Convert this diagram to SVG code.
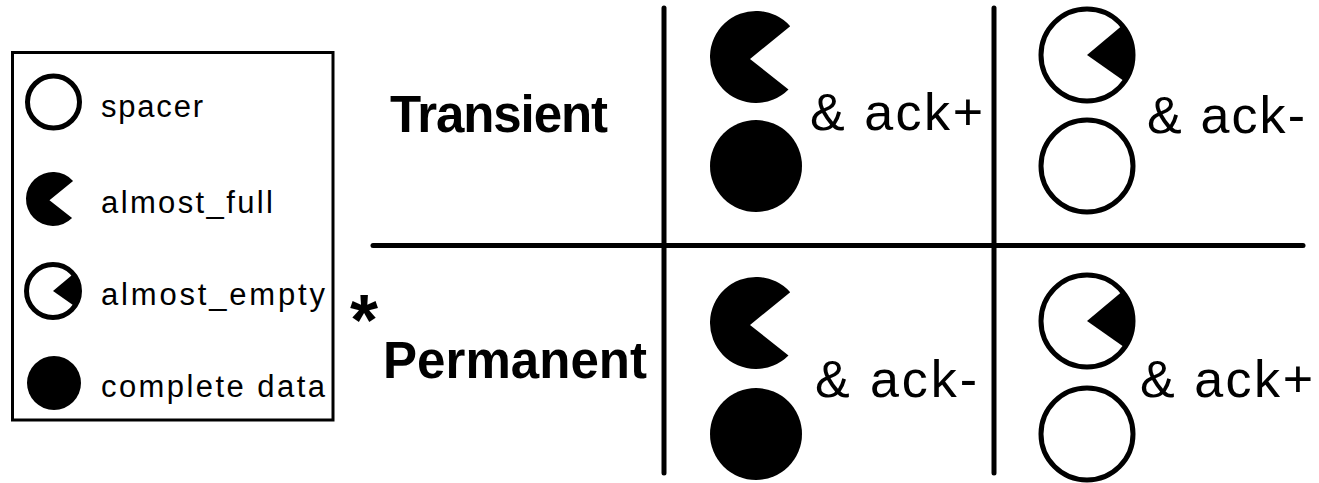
<svg xmlns="http://www.w3.org/2000/svg" xmlns:xlink="http://www.w3.org/1999/xlink" width="1319" height="483" viewBox="0 0 1319 483">
<style>
.t{font-family:"Liberation Sans",Arial,sans-serif;fill:#000}
.lg{font-size:31px}
.big{font-size:52px}
.hd{font-size:51px;font-weight:bold}
.star{font-size:72px;font-weight:bold}
.ln{stroke:#000;stroke-width:5;stroke-linecap:round;fill:none}
.ring{fill:#fff;stroke:#000;stroke-width:5}
.solid{fill:#000}
</style>
<defs>
<path id="full" d="M -6 2 L 34.2 -30.8 A 46 46 0 1 0 32.5 32.5 Z" fill="#000"/>
<g id="empty">
<circle r="46" fill="#fff"/>
<path d="M 0 0 L 35.2 -29.6 A 46 46 0 0 1 37.7 26.4 Z" fill="#000"/>
<circle r="46" fill="none" stroke="#000" stroke-width="5" vector-effect="non-scaling-stroke"/>
</g>
</defs>
<rect width="1319" height="483" fill="#fff"/>
<g id="connectors">
<line class="ln" x1="664" y1="8" x2="664" y2="473"/>
<line class="ln" x1="994" y1="8" x2="994" y2="473"/>
<line class="ln" x1="373" y1="245.5" x2="1303" y2="245.5"/>
</g>
<g id="legend">
<rect x="12.5" y="52.5" width="320.5" height="367.5" fill="none" stroke="#000" stroke-width="3"/>
<circle class="ring" cx="53.5" cy="102" r="26"/>
<text class="t lg" x="101" y="117" textLength="102" lengthAdjust="spacing">spacer</text>
<use xlink:href="#full" transform="translate(53 199) scale(0.587)"/>
<text class="t lg" x="101" y="213" textLength="172" lengthAdjust="spacing">almost_full</text>
<use xlink:href="#empty" transform="translate(53 291) scale(0.576)"/>
<text class="t lg" x="101" y="305" textLength="224" lengthAdjust="spacing">almost_empty</text>
<circle class="solid" cx="54" cy="383" r="27"/>
<text class="t lg" x="101" y="397" textLength="224" lengthAdjust="spacing">complete data</text>
</g>
<g id="row-transient">
<text class="t hd" x="390" y="132" textLength="218" lengthAdjust="spacing">Transient</text>
</g>
<g id="row-permanent">
<text class="t star" x="350" y="345">*</text>
<text class="t hd" x="383" y="378" textLength="264" lengthAdjust="spacing">Permanent</text>
</g>
<g id="cell-transient-full">
<use xlink:href="#full" transform="translate(756 57)"/>
<circle class="solid" cx="756" cy="166" r="46"/>
<text class="t big" x="810" y="130" textLength="173" lengthAdjust="spacing">&amp; ack+</text>
</g>
<g id="cell-transient-empty">
<use xlink:href="#empty" transform="translate(1087 55)"/>
<circle class="ring" cx="1087" cy="166" r="46"/>
<text class="t big" x="1147" y="133" textLength="158" lengthAdjust="spacing">&amp; ack-</text>
</g>
<g id="cell-permanent-full">
<use xlink:href="#full" transform="translate(756 323)"/>
<circle class="solid" cx="756" cy="434" r="46"/>
<text class="t big" x="815" y="397" textLength="162" lengthAdjust="spacing">&amp; ack-</text>
</g>
<g id="cell-permanent-empty">
<use xlink:href="#empty" transform="translate(1087 321)"/>
<circle class="ring" cx="1087" cy="434" r="46"/>
<text class="t big" x="1140" y="397" textLength="173" lengthAdjust="spacing">&amp; ack+</text>
</g>
</svg>
